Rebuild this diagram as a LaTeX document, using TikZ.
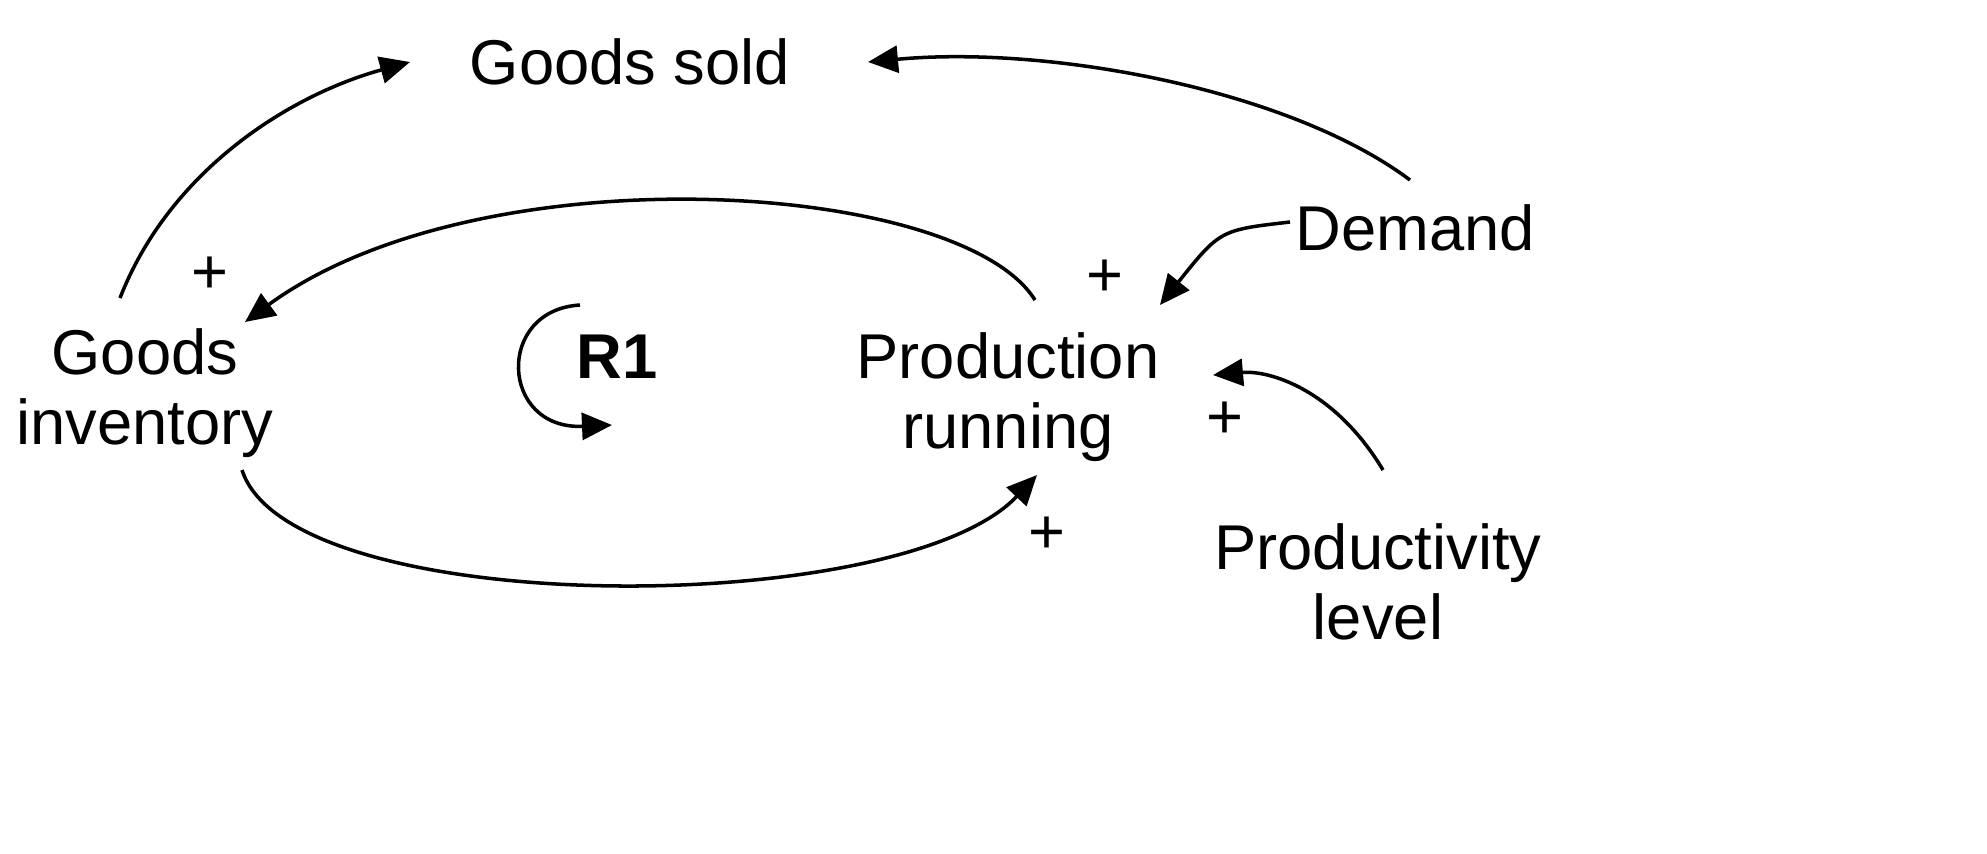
\documentclass[tikz,border=0pt]{standalone}
\usepackage{fontspec}
\setmainfont{Liberation Sans}
\usetikzlibrary{arrows.meta}
\begin{document}
\begin{tikzpicture}[x=0.01cm,y=-0.01cm,
  lbl/.style={font=\fontsize{18}{22}\selectfont,align=center,inner sep=0pt},
  pl/.style={font=\fontsize{18}{22}\selectfont,inner sep=0pt},
  lnk/.style={line width=1pt,-{Triangle[length=0.3cm,width=0.27cm]}}]
\useasboundingbox (0,0) rectangle (1987,853);
\node[lbl] (gs) at (630,62) {Goods sold};
\node[lbl] (dem) at (1415,228) {Demand};
\node[lbl] (gi) at (145,393) {Goods\\[-2pt]inventory};
\node[lbl] (pr) at (1008,397) {Production\\[-2pt]running};
\node[lbl] (pl) at (1378,582) {Productivity\\[-2pt]level};
\node[lbl,font=\fontsize{18}{22}\selectfont\bfseries] (r1) at (617,357) {R1};
\node[pl] (p1) at (210,275) {+};
\node[pl] (p2) at (1105,278) {+};
\node[pl] (p3) at (1225,420) {+};
\node[pl] (p4) at (1047,535) {+};
\coordinate (a1) at (120,298); \coordinate (b1) at (410,62);
\coordinate (a2) at (1410,180); \coordinate (b2) at (868,62);
\coordinate (a3) at (1035,300); \coordinate (b3) at (245,322);
\coordinate (a4) at (1290,222); \coordinate (b4) at (1160,305);
\coordinate (a5) at (1383,470); \coordinate (b5) at (1213,375);
\coordinate (a6) at (242,470); \coordinate (b6) at (1037,475);
\coordinate (a7) at (580,305); \coordinate (b7) at (612,425);
\draw[lnk] (a1) .. controls (170,170) and (290,95) .. (b1);
\draw[lnk] (a2) .. controls (1290,90) and (1050,45) .. (b2);
\draw[lnk] (a3) .. controls (960,180) and (480,150) .. (b3);
\draw[lnk] (a4) .. controls (1220,230) .. (b4);
\draw[lnk] (a5) .. controls (1335,390) and (1270,370) .. (b5);
\draw[lnk] (a6) .. controls (290,620) and (900,620) .. (b6);
\draw[lnk] (a7) .. controls (495,310) and (500,430) .. (b7);
\end{tikzpicture}
\end{document}
